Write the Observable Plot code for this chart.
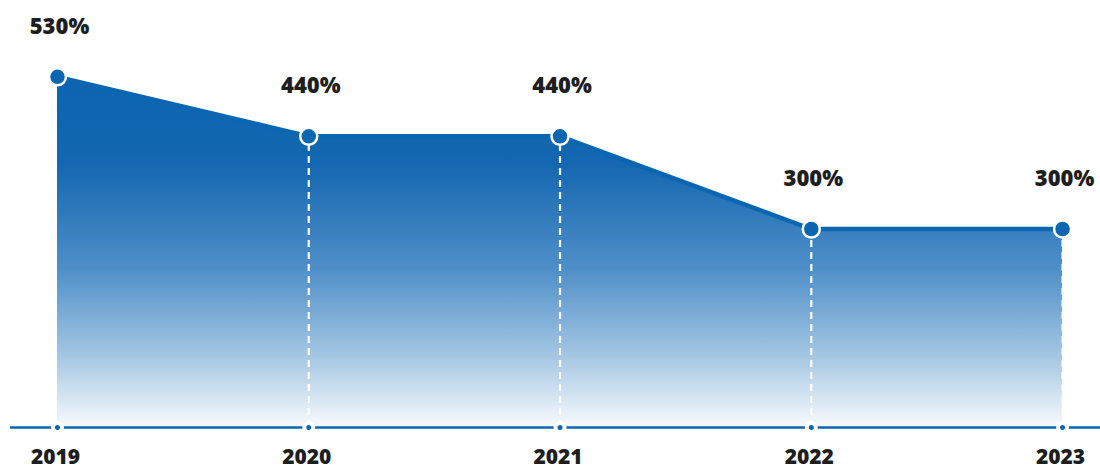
<!DOCTYPE html>
<html>
<head>
<meta charset="utf-8">
<script src="https://cdn.jsdelivr.net/npm/d3@7"></script>
<script src="https://cdn.jsdelivr.net/npm/@observablehq/plot@0.6"></script>
<style>
  html, body { margin: 0; padding: 0; background: #fff; }
  #chart svg { display: block; font-family: "Open Sans", sans-serif; }
</style>
</head>
<body>
<div id="chart"></div>
<script>
const years = [2019, 2020, 2021, 2022, 2023];
const values = [530, 440, 440, 300, 300];
const valueLabels = ["530%", "440%", "440%", "300%", "300%"];
const yearLabels = ["2019", "2020", "2021", "2022", "2023"];

const data = years.map((year, i) => ({year, value: values[i], label: valueLabels[i], yearLabel: yearLabels[i]}));

const blue = "#0b66b2";

const gradientDefs = () => {
  const svg = d3.create("svg:g");
  const grad = svg.append("defs").append("linearGradient")
    .attr("id", "areaGrad").attr("x1", 0).attr("y1", 0).attr("x2", 0).attr("y2", 1);
  [[0, "#0b64b0"], [0.25, "#1467b0"], [0.55, "#4f8fc8"], [0.8, "#a6c7e3"], [1, "#f7fafd"]]
    .forEach(([o, c]) => grad.append("stop").attr("offset", o).attr("stop-color", c));
  return svg.node();
};

const chart = Plot.plot({
  width: 1100,
  height: 470,
  marginLeft: 10,
  marginRight: 0,
  marginTop: 30,
  marginBottom: 43,
  x: {domain: [2018.813, 2023.151], axis: null},
  y: {domain: [0, 600], axis: null},
  marks: [
    gradientDefs,
    Plot.areaY(data, {x: "year", y: "value", fill: "url(#areaGrad)"}),
    Plot.line(data, {x: "year", y: "value", stroke: blue, strokeWidth: 4.5}),
    Plot.ruleX(data.slice(1), {x: "year", y1: 0, y2: "value", stroke: "white", strokeWidth: 2.2, strokeDasharray: "7,5"}),
    Plot.ruleY([0], {stroke: blue, strokeWidth: 2.5}),
    Plot.dot(data, {x: "year", y: 0, r: 4.5, fill: blue, stroke: "white", strokeWidth: 4}),
    Plot.dot(data, {x: "year", y: "value", r: 8.5, fill: blue, stroke: "white", strokeWidth: 2.5}),
    Plot.text(data, {x: "year", y: "value", text: "label", dy: -50, dx: 2, fontSize: 22, fontWeight: 800, fill: "#1e1e1e", fontFamily: "Open Sans"}),
    Plot.text(data, {x: "year", y: 0, text: "yearLabel", dy: 30, dx: -2, fontSize: 21, fontWeight: 800, fill: "#1e1e1e", fontFamily: "Open Sans"})
  ]
});
document.getElementById("chart").appendChild(chart);
</script>
</body>
</html>
